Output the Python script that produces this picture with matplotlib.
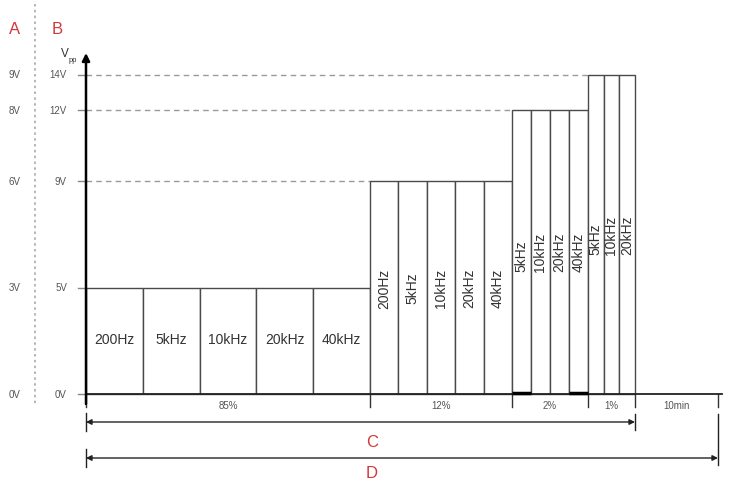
import numpy as np
import matplotlib
matplotlib.use('Agg')
import matplotlib.pyplot as plt

plt.rcParams['font.family'] = ['Liberation Sans', 'DejaVu Sans']

# voltage levels: column A drives the drawing, column B is the second scale
levels_a = [0, 3, 6, 8, 9]
labels_a = ['0V', '3V', '6V', '8V', '9V']
labels_b = ['0V', '5V', '9V', '12V', '14V']

# test blocks: which level they sit on and the frequencies inside them
group_level = [1, 2, 3, 4]
group_freqs = [['200Hz', '5kHz', '10kHz', '20kHz', '40kHz'],
               ['200Hz', '5kHz', '10kHz', '20kHz', '40kHz'],
               ['5kHz', '10kHz', '20kHz', '40kHz'],
               ['5kHz', '10kHz', '20kHz']]
share_labels = ['85%', '12%', '2%', '1%', '10min']
# schematic width of each time block (last one is the 10min rest)
seg_width = [284, 142, 76, 47, 83]
# bars whose bottom edge is drawn bold (group, bar index)
bold_bottom = [(2, 0), (2, 3)]

RED = '#d2383a'
GREY = '#555555'
PXV = 35.5          # pixels per volt on the A scale
Y0 = 395            # pixel row of 0V
X0 = 86             # pixel column of the axis


def py(p):
    # pixel row -> volt coordinate
    return (Y0 - p) / PXV


fig = plt.figure(figsize=(7.29, 4.85), dpi=100)
ax = fig.add_axes([0, 0, 1, 1])
ax.set_xlim(0, 729)
ax.set_ylim(py(485), py(0))
ax.axis('off')

edges = X0 + np.concatenate([[0], np.cumsum(seg_width)])

# bars
for g, freqs in enumerate(group_freqs):
    n = len(freqs)
    w = seg_width[g] / n
    lefts = edges[g] + w * np.arange(n)
    h = levels_a[group_level[g]]
    ax.bar(lefts, [h] * n, width=w, align='edge', facecolor='white',
           edgecolor='#4a4a4a', linewidth=1.0, zorder=2)
    for i, lab in enumerate(freqs):
        xc = lefts[i] + w / 2
        if g == 0:
            ax.text(xc, 1.55, lab, ha='center', va='center', fontsize=10, color='#333')
        elif g == 1:
            ax.text(xc, 3.0, lab, ha='center', va='center', rotation=90, fontsize=10, color='#333')
        else:
            yb = 3.46 if g == 2 else 3.94
            ax.text(xc, yb, lab, ha='center', va='bottom', rotation=90, fontsize=10, color='#333')
    for gg, i in bold_bottom:
        if gg == g:
            ax.plot([lefts[i], lefts[i] + w], [0.02, 0.02], color='black', lw=2.5, zorder=4,
                    solid_capstyle='butt')

# dashed guides from axis to each raised block
for g in range(1, len(group_level)):
    lv = levels_a[group_level[g]]
    ax.plot([X0, edges[g]], [lv, lv], color='#9a9a9a', lw=1, ls=(0, (4, 3)), zorder=1)

# level ticks and labels
for lv, la, lb in zip(levels_a, labels_a, labels_b):
    ax.plot([X0 - 8, X0], [lv, lv], color='#888', lw=1)
    ax.text(15, lv, la, ha='center', va='center', fontsize=7, color=GREY)
    ax.text(67, lv, lb, ha='right', va='center', fontsize=7, color=GREY)

# y axis with arrow
ax.annotate('', xy=(X0, py(54)), xytext=(X0, py(405)),
            arrowprops=dict(arrowstyle='-|>', lw=1.8, color='black', mutation_scale=11,
                            shrinkA=0, shrinkB=0), zorder=5)
ax.text(65, py(54), 'V', ha='center', va='center', fontsize=8.5, color='#333')
ax.text(73, py(61), 'pp', ha='center', va='center', fontsize=5.5, color='#333')

# baseline and segment ticks
ax.plot([X0, 722], [0, 0], color='#222', lw=1.3, zorder=3)
for x in edges:
    ax.plot([x, x], [0, py(408)], color='#333', lw=1)
for i, lab in enumerate(share_labels):
    ax.text((edges[i] + edges[i + 1]) / 2, py(406), lab, ha='center', va='center',
            fontsize=7, color=GREY)

# column separators and headers
ax.plot([35, 35], [py(5), py(405)], color='#aaaaaa', lw=1.2, ls=(0, (1.5, 2)))
ax.text(15, py(30), 'A', ha='center', va='center', fontsize=12, color=RED)
ax.text(57, py(30), 'B', ha='center', va='center', fontsize=12, color=RED)

# duration arrows C and D
for end, yp, yl, lab in [(edges[4], 423, 443, 'C'), (edges[5], 459, 474, 'D')]:
    ax.annotate('', xy=(end, py(yp)), xytext=(X0, py(yp)),
                arrowprops=dict(arrowstyle='<|-|>', lw=1.0, color='#222', mutation_scale=8,
                                shrinkA=0, shrinkB=0))
    ax.plot([X0, X0], [py(yp - 9), py(yp + 9)], color='#222', lw=1)
    ax.text(372, py(yl), lab, ha='center', va='center', fontsize=12, color=RED)
ax.plot([edges[4], edges[4]], [py(415), py(431)], color='#222', lw=1)
ax.plot([edges[5], edges[5]], [py(415), py(466)], color='#222', lw=1)

fig.savefig('out.png', dpi=100)
